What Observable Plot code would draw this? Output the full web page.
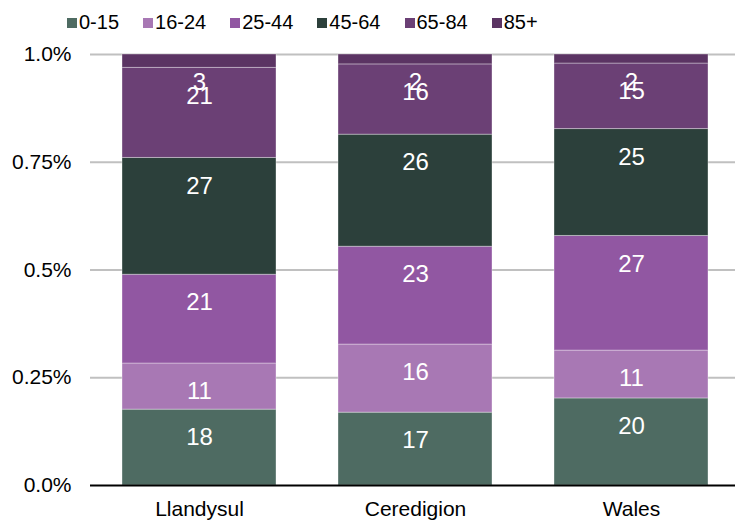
<!DOCTYPE html>
<html>
<head>
<meta charset="utf-8">
<script src="https://cdn.jsdelivr.net/npm/d3@7"></script>
<script src="https://cdn.jsdelivr.net/npm/@observablehq/plot@0.6"></script>
<style>
  html, body { margin: 0; padding: 0; background: #fff; }
  body { width: 735px; height: 520px; overflow: hidden; font-family: "Liberation Sans", Arial, sans-serif; }
  #legend { height: 40px; display: flex; align-items: center; padding-left: 67px; box-sizing: border-box; padding-top: 5px; }
  .item { display: flex; align-items: center; margin-right: 24px; font-size: 20px; color: #000; }
  .sw { width: 10px; height: 10px; margin-right: 2px; }
</style>
</head>
<body>
<div id="legend"></div>
<div id="chart"></div>
<script>
const places = ["Llandysul", "Ceredigion", "Wales"];
const ages = ["0-15", "16-24", "25-44", "45-64", "65-84", "85+"];
const llandysul = [0.176, 0.107, 0.206, 0.271, 0.209, 0.031];
const ceredigion = [0.169, 0.158, 0.227, 0.260, 0.163, 0.023];
const wales = [0.202, 0.111, 0.266, 0.248, 0.152, 0.021];
const colors = ["#4e6b62", "#a878b4", "#9157a2", "#2c403b", "#6b4075", "#5b3463"];
const yTicks = [0, 0.25, 0.5, 0.75, 1.0];
const yTickLabels = ["0.0%", "0.25%", "0.5%", "0.75%", "1.0%"];

const series = [llandysul, ceredigion, wales];
const data = [];
ages.forEach((age, j) => {
  places.forEach((place, i) => {
    data.push({place, age, value: series[i][j]});
  });
});

const legend = document.getElementById("legend");
ages.forEach((a, i) => {
  const it = document.createElement("div");
  it.className = "item";
  it.innerHTML = `<span class="sw" style="background:${colors[i]}"></span><span>${a}</span>`;
  legend.appendChild(it);
});

const chart = Plot.plot({
  width: 735,
  height: 480,
  marginTop: 14,
  marginBottom: 35,
  marginLeft: 90,
  marginRight: 0,
  style: {fontFamily: "Liberation Sans, Arial, sans-serif", fontSize: "21px", color: "#000"},
  x: {domain: places, paddingInner: 0.286, paddingOuter: 0.13, align: 0.55, label: null, tickSize: 0, tickPadding: 16},
  y: {domain: [0, 1], ticks: yTicks, tickFormat: d => yTickLabels[yTicks.indexOf(d)], label: null, tickSize: 0, tickPadding: 19},
  color: {domain: ages, range: colors},
  marks: [
    Plot.ruleY(yTicks.filter(d => d > 0), {stroke: "#c0c0c0", strokeWidth: 2}),
    Plot.barY(data, {x: "place", y: "value", fill: "age", stroke: "white", strokeOpacity: 0.35, strokeWidth: 1}),
    Plot.text(data, Plot.stackY2({x: "place", y: "value", z: "age", text: d => String(Math.round(d.value * 100)), fill: "white", fontSize: 24, lineAnchor: "middle", dy: 28})),
    Plot.ruleY([0], {stroke: "#000", strokeWidth: 2})
  ]
});
document.getElementById("chart").appendChild(chart);
</script>
</body>
</html>
